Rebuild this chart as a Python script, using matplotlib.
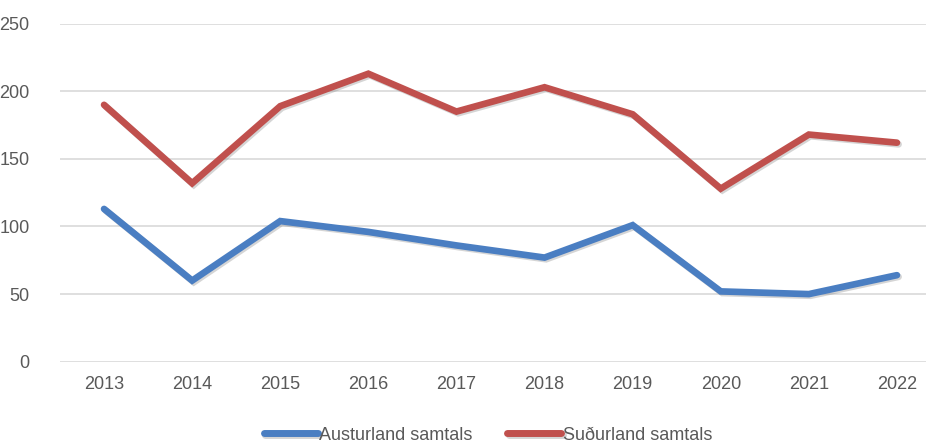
import matplotlib
matplotlib.use("Agg")
import matplotlib.pyplot as plt
import matplotlib.patheffects as pe

years = ["2013", "2014", "2015", "2016", "2017", "2018", "2019", "2020", "2021", "2022"]
austurland = [113, 60, 104, 96, 86, 77, 101, 52, 50, 64]
sudurland = [190, 132, 189, 213, 185, 203, 183, 128, 168, 162]

plt.rcParams["font.family"] = ["Liberation Sans Narrow", "Liberation Sans", "DejaVu Sans"]

fig = plt.figure(figsize=(9.26, 4.45), dpi=100)
# plot area runs a bit past the right edge of the picture, as in the original
ax = fig.add_axes([60 / 926, 1 - 361.7 / 445, 881 / 926, 338 / 445])

x = list(range(len(years)))
shadow = [pe.SimpleLineShadow(offset=(1.2, -1.2), shadow_color="#888888", alpha=0.35), pe.Normal()]
ax.plot(x, austurland, color="#4a7ec2", lw=4.8, solid_capstyle="round",
        solid_joinstyle="miter", label="Austurland samtals", path_effects=shadow)
ax.plot(x, sudurland, color="#c0504d", lw=4.8, solid_capstyle="round",
        solid_joinstyle="miter", label="Suðurland samtals", path_effects=shadow)

ax.set_xlim(-0.5, 9.5)
ax.set_ylim(0, 250)
ax.set_yticks(range(0, 251, 50))
ax.set_xticks(x)
ax.set_xticklabels(years)
ax.grid(axis="y", color="#d9d9d9", lw=1.2)
ax.set_axisbelow(True)
for s in ax.spines.values():
    s.set_visible(False)
ax.tick_params(length=0, colors="#595959", labelsize=13)
ax.tick_params(axis="y", pad=22)
ax.tick_params(axis="x", pad=10)

leg = fig.legend(loc="center", bbox_to_anchor=(488 / 926, 1 - 435 / 445), ncol=2,
                 frameon=False, fontsize=13, handlelength=3.0, handletextpad=0.1,
                 columnspacing=1.9, labelcolor="#595959")
for h in leg.get_lines():
    h.set_linewidth(5)
    h.set_solid_capstyle("round")

fig.savefig("out.png", dpi=100)
